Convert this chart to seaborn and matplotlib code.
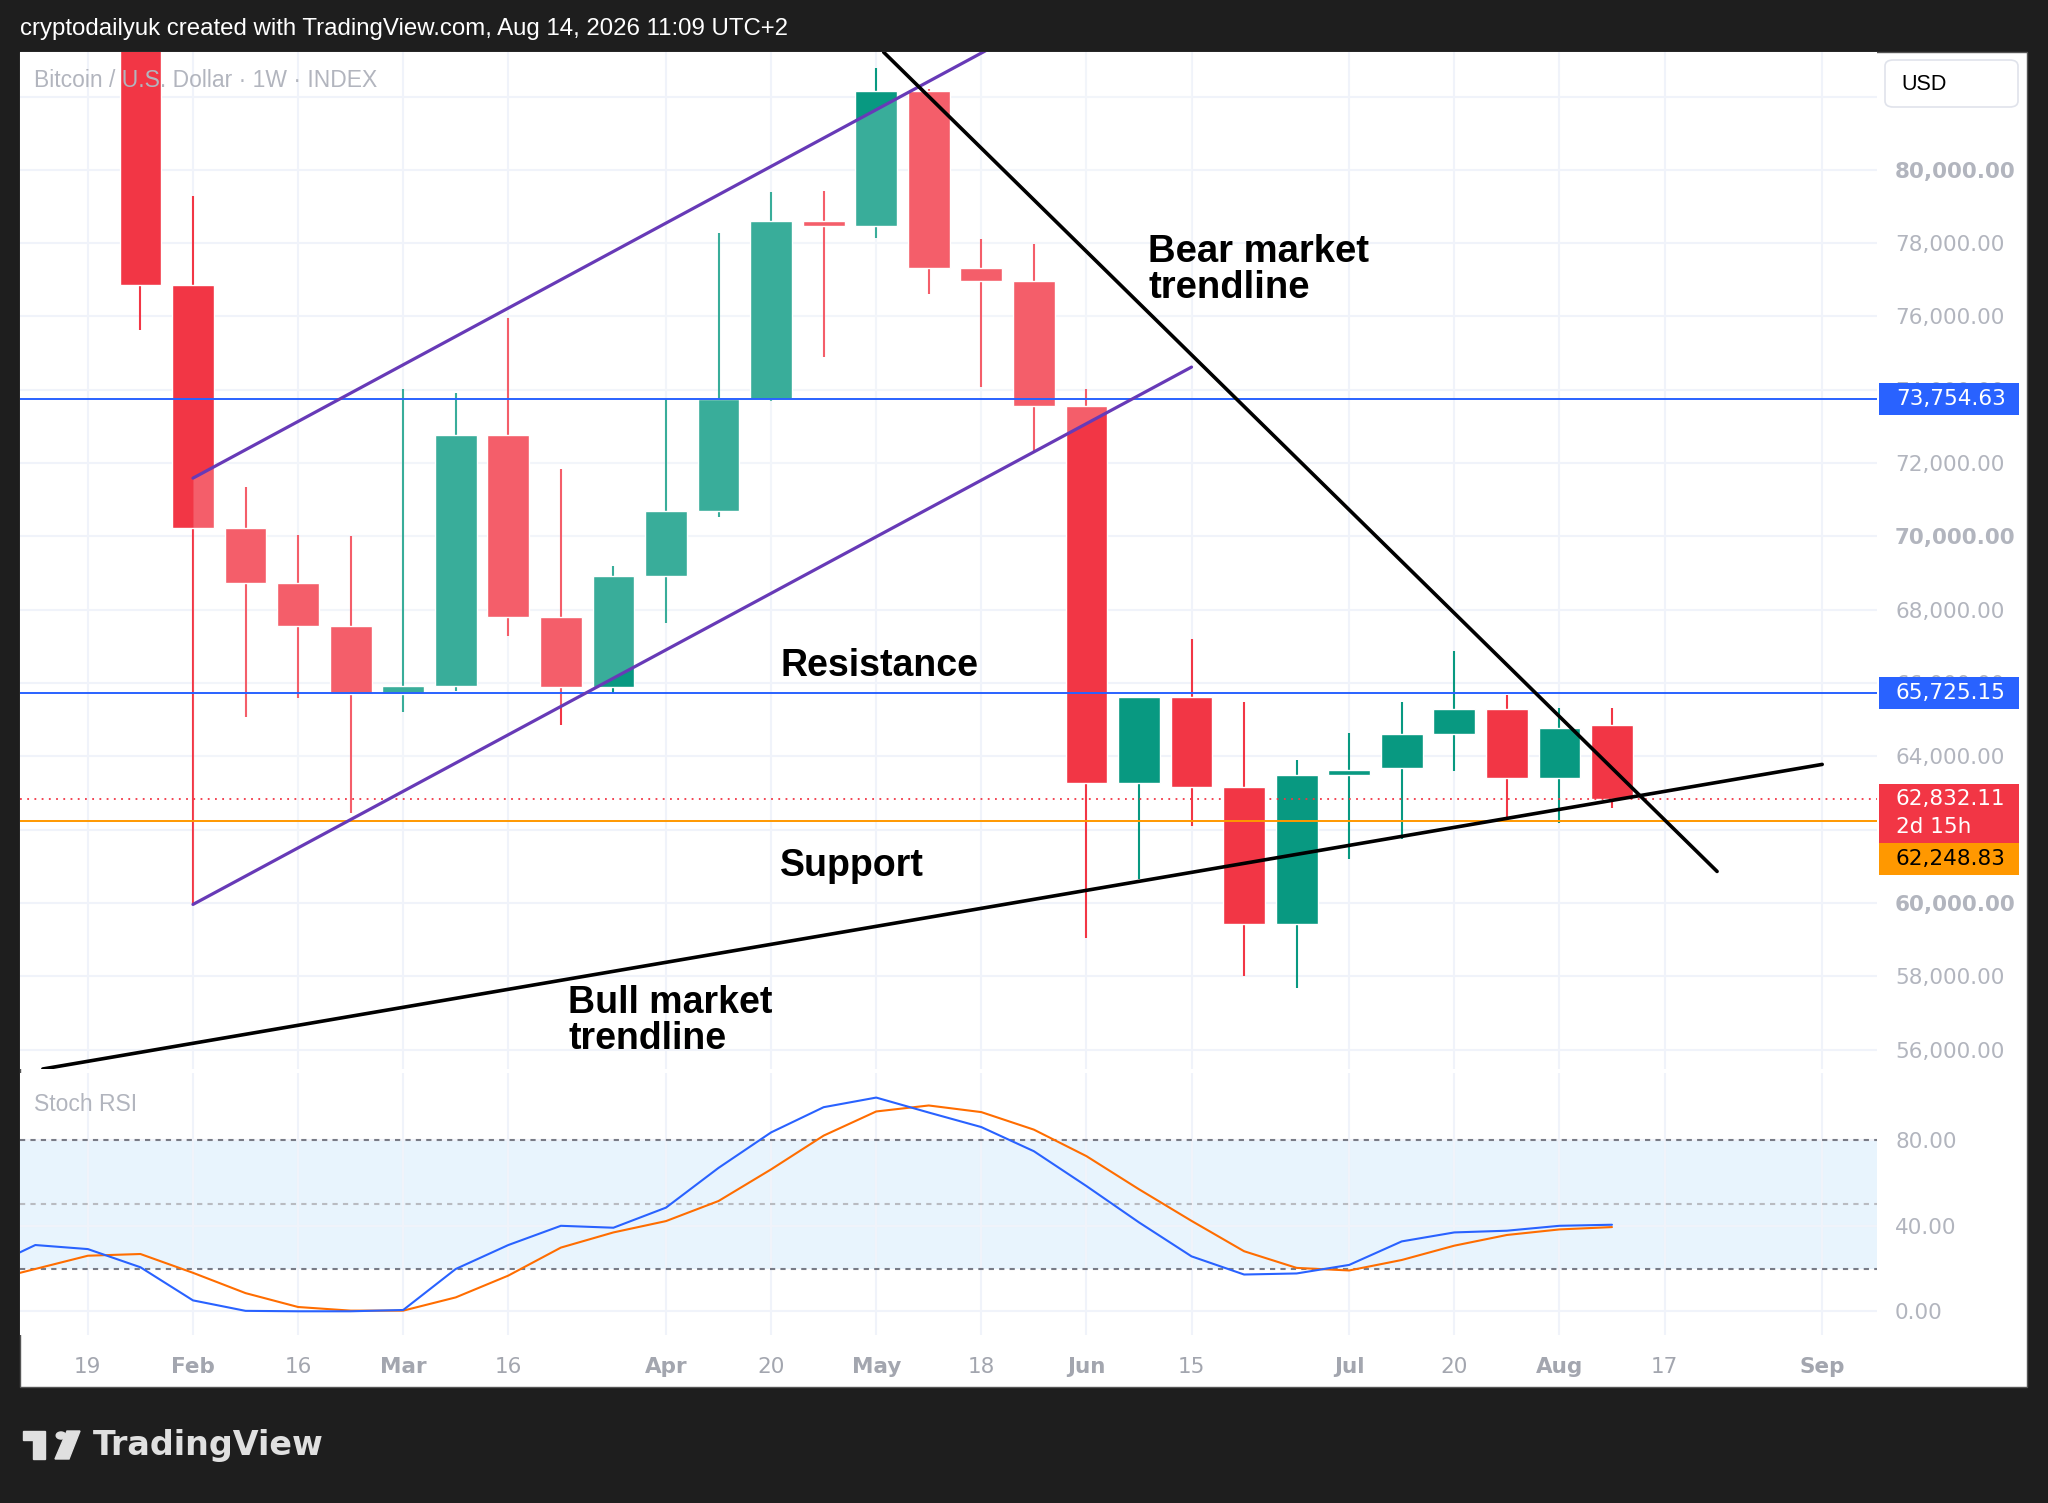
import numpy as np
import pandas as pd
import matplotlib.pyplot as plt
from matplotlib.patches import Rectangle, FancyBboxPatch, Polygon, Circle
import seaborn as sns

# weekly candles, BTC/USD index (week start dates)
weeks = pd.date_range('2026-01-26', periods=29, freq='7D')
opens = [84500, 76860, 70230, 68730, 67560, 65700, 65920, 72760, 67800, 65880,
         68910, 70700, 73760, 78610, 78470, 82140, 77330, 76970, 73550, 63280,
         65630, 63170, 59430, 63490, 63670, 64600, 65280, 63420, 64850]
highs = [85600, 79290, 71340, 70050, 70020, 74010, 73900, 75970, 71840, 69200,
         73760, 78290, 79390, 79430, 82780, 82200, 78110, 77970, 74010, 65630,
         67200, 65490, 63890, 64640, 65490, 66880, 65670, 65310, 65310]
lows = [75620, 59960, 65060, 65600, 62460, 65200, 65780, 67270, 64850, 65740,
        67630, 70520, 73690, 74900, 78150, 76610, 74080, 72340, 59040, 60640,
        62100, 58000, 57680, 61210, 61750, 63600, 62280, 62180, 62600]
closes = [76860, 70230, 68730, 67560, 65700, 65920, 72760, 67800, 65880, 68910,
          70700, 73760, 78610, 78470, 82140, 77330, 76970, 73550, 63280, 65630,
          63170, 59430, 63490, 63640, 64600, 65280, 63420, 64780, 62832]

# stochastic RSI
stoch_weeks = pd.date_range('2026-01-05', periods=32, freq='7D')
stoch_k = [19.3, 31.0, 29.1, 20.6, 5.1, 0.2, 0.0, 0.0, 0.6, 19.8, 31.0, 40.0, 39.1,
           48.5, 67.1, 83.7, 95.5, 100.0, 93.0, 86.2, 74.9, 58.6, 41.6, 25.7, 17.2,
           17.7, 21.7, 32.7, 36.9, 37.7, 40.0, 40.5]
stoch_d = [13.6, 19.8, 26.0, 26.8, 18.0, 8.5, 2.0, 0.3, 0.3, 6.5, 16.7, 29.8, 36.9,
           42.2, 51.6, 66.4, 82.2, 93.5, 96.3, 93.2, 85.0, 72.6, 57.1, 42.3, 28.1,
           20.3, 19.1, 24.0, 30.7, 35.7, 38.3, 39.4]

tick_dates = ['2026-01-19', '2026-02-02', '2026-02-16', '2026-03-02', '2026-03-16',
              '2026-04-06', '2026-04-20', '2026-05-04', '2026-05-18', '2026-06-01',
              '2026-06-15', '2026-07-06', '2026-07-20', '2026-08-03', '2026-08-17',
              '2026-09-07']
tick_labels = ['19', 'Feb', '16', 'Mar', '16', 'Apr', '20', 'May', '18', 'Jun',
               '15', 'Jul', '20', 'Aug', '17', 'Sep']
price_ticks = list(range(56000, 84000, 2000))
hidden_ticks = [62000, 82000]   # covered by the price boxes / USD box

level_high = 73754.63
level_mid = 65725.15
last_price = 62832.11
level_low = 62248.83

# hand drawn lines
bull_x, bull_y = ['2026-01-13', '2026-09-07'], [55470, 63780]
bear_x, bear_y = ['2026-05-05', '2026-08-24'], [83210, 60860]
chan_x = ['2026-02-02', '2026-06-15']
chan_top = [71590, 86280]
chan_bot = [59960, 74620]

RED, GREEN, BLUE, ORANGE = '#F23645', '#089981', '#2962FF', '#FF9800'
GRID = '#F0F3FA'
LABEL = '#B2B5BE'

sns.set_theme(style='white')
plt.rcParams['font.family'] = ['DejaVu Sans']

W, H = 2048, 1503
fig = plt.figure(figsize=(W / 100, H / 100), dpi=100)
fig.patch.set_facecolor('#1E1E1E')

def fx(px):
    return px / W

def fy(py):
    return 1 - py / H

fig.add_artist(Rectangle((fx(20), fy(1387)), fx(2027) - fx(20), fy(52) - fy(1387),
                         transform=fig.transFigure, facecolor='white',
                         edgecolor='#555555', lw=1, zorder=-1))

ax = fig.add_axes([fx(20), fy(1069), fx(1877) - fx(20), fy(52) - fy(1069)])
ax2 = fig.add_axes([fx(20), fy(1335), fx(1877) - fx(20), fy(1073) - fy(1335)], sharex=ax)

x0 = pd.Timestamp('2026-01-19')
xlim = (x0 - pd.Timedelta(days=9.04), x0 + pd.Timedelta(days=238.3))

# ---- candles ----
up = np.array(closes) >= np.array(opens)
cols = [GREEN if u else RED for u in up]
ax.vlines(weeks, lows, highs, colors=cols, lw=1.5, zorder=2)
ax.bar(weeks, np.abs(np.array(closes) - np.array(opens)),
       bottom=np.minimum(opens, closes), width=5.57, color=cols, zorder=2.1)

# channel (translucent fill lightens candles inside)
cx = pd.to_datetime(chan_x)
ax.fill_between(cx, chan_bot, chan_top, color='white', alpha=0.2, lw=0, zorder=3)
ax.plot(cx, chan_top, color='#673AB7', lw=2.3, zorder=4, solid_capstyle='round')
ax.plot(cx, chan_bot, color='#673AB7', lw=2.3, zorder=4, solid_capstyle='round')

# levels
ax.axhline(level_high, color=BLUE, lw=1.4, zorder=3.5)
ax.axhline(level_mid, color=BLUE, lw=1.4, zorder=3.5)
ax.axhline(level_low, color=ORANGE, lw=1.4, zorder=3.5)
ax.axhline(last_price, color=RED, lw=1.3, ls=(0, (1, 3)), zorder=3.5)

# trendlines
ax.plot(pd.to_datetime(bull_x), bull_y, color='black', lw=2.6, zorder=5, solid_capstyle='round')
ax.plot(pd.to_datetime(bear_x), bear_y, color='black', lw=2.6, zorder=5, solid_capstyle='round')

ax.set_xlim(*xlim)
ax.set_ylim(55470, 83216)
ax.yaxis.tick_right()
ax.set_yticks(price_ticks)
ax.set_yticklabels(['' if p in hidden_ticks else f'{p:,.2f}' for p in price_ticks])
for lab, p in zip(ax.get_yticklabels(), price_ticks):
    lab.set_fontweight('bold' if p % 10000 == 0 else 'normal')
ax.tick_params(axis='y', length=0, pad=13, labelsize=15.5, labelcolor=LABEL)
ax.tick_params(axis='x', length=0, labelbottom=False)
ax.grid(True, color=GRID, lw=1.5)
ax.set_axisbelow(True)
for s in ax.spines.values():
    s.set_visible(False)

ax.text(0.0077, 0.972, 'Bitcoin / U.S. Dollar · 1W · INDEX', transform=ax.transAxes,
        fontsize=16.5, color=LABEL, family='Liberation Sans', va='center', zorder=6)

bold = dict(family='Liberation Sans', fontweight='bold', color='black', zorder=6)
ax.text(pd.Timestamp('2026-06-09 05:00'), 77273, 'Bear market\ntrendline',
        fontsize=27.5, va='center', linespacing=1.0, **bold)
ax.text(pd.Timestamp('2026-04-21 05:00'), 66453, 'Resistance', fontsize=27, va='center', **bold)
ax.text(pd.Timestamp('2026-04-21 05:00'), 61002, 'Support', fontsize=27, va='center', **bold)
ax.text(pd.Timestamp('2026-03-24'), 56774, 'Bull market\ntrendline',
        fontsize=27, va='center', linespacing=1.0, **bold)

# price labels on the axis
yt = ax.get_yaxis_transform()
bx0, bw, tx = 1.0011, 0.0754, 1.0102

def price_box(top, bottom, color):
    ax.add_patch(Rectangle((bx0, bottom), bw, top - bottom, transform=yt,
                           facecolor=color, edgecolor='none', clip_on=False, zorder=10))

price_box(level_high + 437, level_high - 437, BLUE)
ax.text(tx, level_high, f'{level_high:,.2f}', transform=yt, color='white', fontsize=15.5,
        va='center', clip_on=False, zorder=11)
price_box(level_mid + 437, level_mid - 437, BLUE)
ax.text(tx, level_mid, f'{level_mid:,.2f}', transform=yt, color='white', fontsize=15.5,
        va='center', clip_on=False, zorder=11)
price_box(63245, 61640, RED)
ax.text(tx, last_price, f'{last_price:,.2f}', transform=yt, color='white', fontsize=15.5,
        va='center', clip_on=False, zorder=11)
ax.annotate('2d 15h', xy=(tx, last_price), xycoords=yt, xytext=(0, -19.7),
            textcoords='offset points', color='white', fontsize=15.5, va='center',
            annotation_clip=False, zorder=11)
price_box(61640, 60750, ORANGE)
ax.annotate(f'{level_low:,.2f}', xy=(tx, 61195), xycoords=yt, color='black',
            fontsize=15.5, va='center', annotation_clip=False, zorder=11)

# ---- stochastic RSI pane ----
ax2.axhspan(20, 80, color='#2196F3', alpha=0.1, lw=0, zorder=0.5)
sns.lineplot(x=stoch_weeks, y=stoch_k, ax=ax2, color=BLUE, lw=1.5, zorder=4)
sns.lineplot(x=stoch_weeks, y=stoch_d, ax=ax2, color='#FF6D00', lw=1.5, zorder=3)
ax2.axhline(80, color='#787B86', lw=1.5, ls=(0, (2.5, 2.5)), zorder=2)
ax2.axhline(50, color='#B9BBC1', lw=1.5, ls=(0, (2.5, 2.5)), zorder=2)
ax2.axhline(20, color='#787B86', lw=1.5, ls=(0, (2.5, 2.5)), zorder=2)
ax2.set_ylim(-11.1, 111.5)
ax2.yaxis.tick_right()
ax2.set_yticks([0, 40, 80])
ax2.set_yticklabels(['0.00', '40.00', '80.00'])
ax2.set_xticks(pd.to_datetime(tick_dates))
ax2.set_xticklabels(tick_labels)
for lab, t in zip(ax2.get_xticklabels(), tick_labels):
    lab.set_fontweight('normal' if t.isdigit() else 'bold')
ax2.tick_params(axis='y', length=0, pad=13, labelsize=15.5, labelcolor=LABEL)
ax2.tick_params(axis='x', length=0, pad=16, labelsize=15.5, labelcolor='#A3A6AF')
ax2.grid(True, color=GRID, lw=1.5)
ax2.set_axisbelow(True)
ax2.set_xlabel('')
ax2.set_ylabel('')
ax2.set_xlim(*xlim)
for s in ax2.spines.values():
    s.set_visible(False)
ax2.text(0.0077, 0.88, 'Stoch RSI', transform=ax2.transAxes, fontsize=16.5,
         color=LABEL, family='Liberation Sans', va='center')

# ---- frame texts ----
fig.text(fx(20), fy(29), 'cryptodailyuk created with TradingView.com, Aug 14, 2026 11:09 UTC+2',
         color='white', fontsize=17.3, family='Liberation Sans', va='center')

usd = FancyBboxPatch((fx(1885), fy(107)), fx(2018) - fx(1885), fy(60) - fy(107),
                     boxstyle='round,pad=0,rounding_size=0.004', transform=fig.transFigure,
                     facecolor='white', edgecolor='#E0E3EB', lw=1.2, zorder=5)
fig.add_artist(usd)
fig.text(fx(1901), fy(84), 'USD', color='black', fontsize=15.5, family='Liberation Sans',
         va='center', zorder=6)

# TradingView logo
logo = '#E0E0E0'
fig.add_artist(Polygon([(fx(23), fy(1431)), (fx(45), fy(1431)), (fx(45), fy(1459)),
                        (fx(33), fy(1459)), (fx(33), fy(1440)), (fx(23), fy(1440))],
                       closed=True, transform=fig.transFigure, color=logo, zorder=5))
fig.add_artist(Circle((fx(61), fy(1435.5)), 4.8 / W, transform=fig.transFigure,
                      color=logo, zorder=5))
fig.add_artist(Polygon([(fx(67), fy(1431)), (fx(80), fy(1431)), (fx(69), fy(1459)),
                        (fx(55), fy(1459))],
                       closed=True, transform=fig.transFigure, color=logo, zorder=5))
fig.text(fx(93), fy(1446), 'TradingView', color=logo, fontsize=24, fontweight='bold',
         va='center')

fig.savefig('out.png', dpi=100, facecolor=fig.get_facecolor())
